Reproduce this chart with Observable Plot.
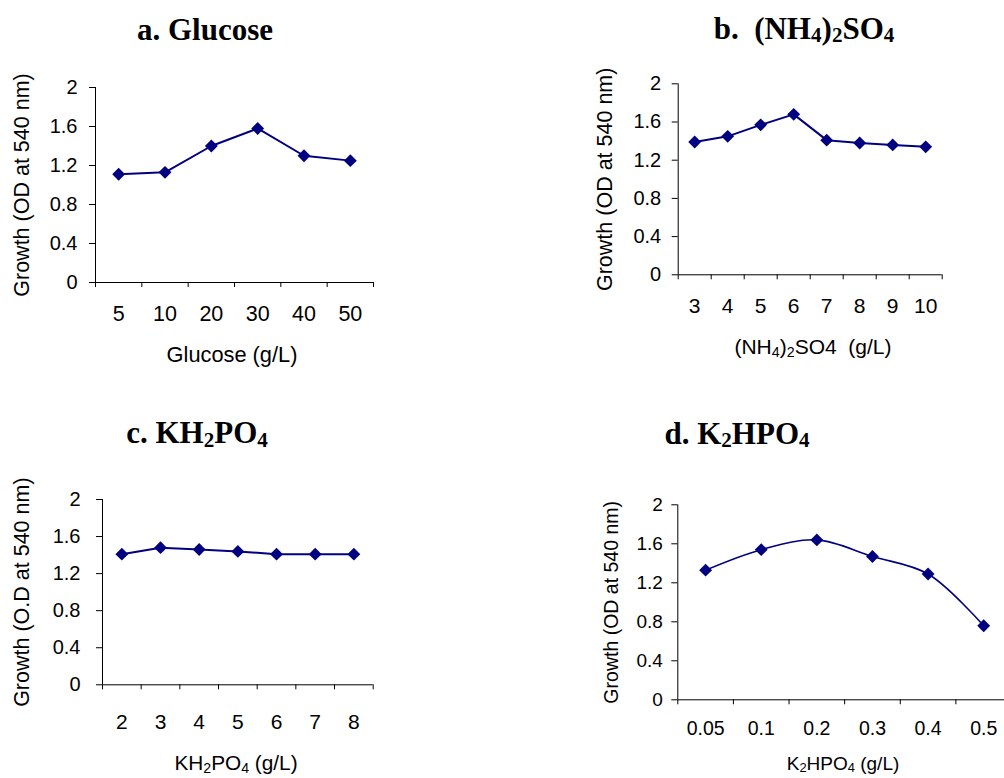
<!DOCTYPE html>
<html>
<head>
<meta charset="utf-8">
<script src="https://cdn.jsdelivr.net/npm/d3@7"></script>
<script src="https://cdn.jsdelivr.net/npm/@observablehq/plot@0.6"></script>
<style>
  html, body { margin: 0; padding: 0; background: #fff; overflow: hidden; }
  #fig { position: relative; width: 1004px; height: 778px; font-family: "Liberation Sans", Arial, sans-serif; color: #000; }
  .panel { position: absolute; }
  .panel svg { max-width: none !important; overflow: visible; }
  .title { position: absolute; font-family: "Liberation Serif", "Times New Roman", serif; font-weight: bold; line-height: 1; white-space: pre; transform: translateX(-50%); }
  .xlab { position: absolute; line-height: 1; white-space: pre; transform: translateX(-50%); }
  sub { font-size: 0.68em; vertical-align: baseline; position: relative; top: 0.18em; line-height: 0; }
</style>
</head>
<body>
<div id="fig"></div>
<script>
// ---- data ----
const glucoseConc = ["5", "10", "20", "30", "40", "50"];
const glucoseGrowth = [1.11, 1.13, 1.40, 1.58, 1.30, 1.25];

const ammoniumConc = ["3", "4", "5", "6", "7", "8", "9", "10"];
const ammoniumGrowth = [1.39, 1.45, 1.57, 1.68, 1.41, 1.38, 1.36, 1.34];

const kh2po4Conc = ["2", "3", "4", "5", "6", "7", "8"];
const kh2po4Growth = [1.41, 1.48, 1.46, 1.44, 1.41, 1.41, 1.41];

const k2hpo4Conc = ["0.05", "0.1", "0.2", "0.3", "0.4", "0.5"];
const k2hpo4Growth = [1.33, 1.54, 1.64, 1.47, 1.29, 0.76];

const yTicks = [0, 0.4, 0.8, 1.2, 1.6, 2];

const titles = [
  "a. Glucose",
  "b.  (NH<sub>4</sub>)<sub>2</sub>SO<sub>4</sub>",
  "c. KH<sub>2</sub>PO<sub>4</sub>",
  "d. K<sub>2</sub>HPO<sub>4</sub>"
];
const xLabels = [
  "Glucose (g/L)",
  "(NH<sub>4</sub>)<sub>2</sub>SO4  (g/L)",
  "KH<sub>2</sub>PO<sub>4</sub> (g/L)",
  "K<sub>2</sub>HPO<sub>4</sub> (g/L)"
];
const yLabels = [
  "Growth (OD at 540 nm)",
  "Growth (OD at 540 nm)",
  "Growth (O.D at 540 nm)",
  "Growth (OD at 540 nm)"
];

// ---- layout (presentation only) ----
const panels = [
  {cats: glucoseConc, vals: glucoseGrowth, left: 0, top: 0, width: 400, height: 330,
   mL: 95, mR: 27, mT: 87, mB: 48, yPad: 12, xPad: 23, yTickFs: 20, xTickFs: 21.5, yLabFs: 21.5, yLabX: 22,
   curve: "linear", sw: 2,
   title: {x: 205, top: 13.5, fs: 31}, xlab: {x: 232, top: 343.5, fs: 21.8}},
  {cats: ammoniumConc, vals: ammoniumGrowth, left: 580, top: 0, width: 424, height: 330,
   mL: 97.7, mR: 62.3, mT: 83.3, mB: 55.7, yPad: 11, xPad: 23.4, yTickFs: 20, xTickFs: 21, yLabFs: 21.5, yLabX: 25,
   curve: "linear", sw: 2,
   title: {x: 804, top: 12.5, fs: 31}, xlab: {x: 813, top: 336, fs: 21}},
  {cats: kh2po4Conc, vals: kh2po4Growth, left: 0, top: 400, width: 420, height: 330,
   mL: 102, mR: 47.3, mT: 99, mB: 45.7, yPad: 16, xPad: 29.7, yTickFs: 20, xTickFs: 21, yLabFs: 21.5, yLabX: 22,
   curve: "linear", sw: 2,
   title: {x: 197, top: 417, fs: 31}, xlab: {x: 236, top: 753, fs: 20.8}},
  {cats: k2hpo4Conc, vals: k2hpo4Growth, left: 580, top: 400, width: 440, height: 330,
   mL: 97.3, mR: 9, mT: 104.3, mB: 30.7, yPad: 9, xPad: 21.4, yTickFs: 19, xTickFs: 19.5, yLabFs: 19.5, yLabX: 31,
   curve: "catmull-rom", sw: 1.6,
   title: {x: 737, top: 417.5, fs: 31}, xlab: {x: 843, top: 754, fs: 19}}
];

const fig = document.getElementById("fig");

panels.forEach((p, k) => {
  const n = p.cats.length;
  const data = p.vals.map((v, i) => ({i: i + 0.5, v}));
  const catPos = p.cats.map((c, i) => ({c, i: i + 0.5}));
  const chart = Plot.plot({
    width: p.width,
    height: p.height,
    marginLeft: p.mL,
    marginRight: p.mR,
    marginTop: p.mT,
    marginBottom: p.mB,
    style: {fontFamily: '"Liberation Sans", Arial, sans-serif', color: "#000", background: "transparent", maxWidth: "none", overflow: "visible"},
    x: {domain: [0, n], axis: null},
    y: {domain: [0, 2], axis: null},
    marks: [
      // tick marks
      Plot.axisY(yTicks, {anchor: "left", tickSize: 6, tickFormat: () => "", label: null, stroke: "#000"}),
      Plot.axisX(d3.range(n + 1), {anchor: "bottom", tickSize: 5, tickFormat: () => "", label: null, stroke: "#000"}),
      // tick labels
      Plot.text(yTicks, {x: 0, y: d => d, text: d => String(d), textAnchor: "end", lineAnchor: "middle", dx: -(6 + p.yPad), fontSize: p.yTickFs, fill: "#000"}),
      Plot.text(catPos, {x: "i", y: 0, text: "c", textAnchor: "middle", lineAnchor: "top", dy: p.xPad, fontSize: p.xTickFs, fill: "#000"}),
      // axis lines
      Plot.ruleX([0], {y1: 0, y2: 2, stroke: "#000", strokeWidth: 1}),
      Plot.ruleY([0], {stroke: "#000", strokeWidth: 1}),
      // series
      Plot.line(data, {x: "i", y: "v", stroke: "#000080", strokeWidth: p.sw, curve: p.curve}),
      Plot.dot(data, {x: "i", y: "v", symbol: "diamond2", r: 5.8, fill: "#000080", stroke: "none"}),
      // y label
      Plot.text([yLabels[k]], {text: d => d, frameAnchor: "left", rotate: -90, dx: p.yLabX - p.mL, fontSize: p.yLabFs, textAnchor: "middle", lineAnchor: "middle", fill: "#000"})
    ]
  });
  const div = document.createElement("div");
  div.className = "panel";
  div.style.left = p.left + "px";
  div.style.top = p.top + "px";
  div.style.width = p.width + "px";
  div.style.height = p.height + "px";
  div.appendChild(chart);
  fig.appendChild(div);

  const t = document.createElement("div");
  t.className = "title";
  t.innerHTML = titles[k];
  t.style.left = p.title.x + "px";
  t.style.top = p.title.top + "px";
  t.style.fontSize = p.title.fs + "px";
  fig.appendChild(t);

  const xl = document.createElement("div");
  xl.className = "xlab";
  xl.innerHTML = xLabels[k];
  xl.style.left = p.xlab.x + "px";
  xl.style.top = p.xlab.top + "px";
  xl.style.fontSize = p.xlab.fs + "px";
  fig.appendChild(xl);
});
</script>
</body>
</html>
